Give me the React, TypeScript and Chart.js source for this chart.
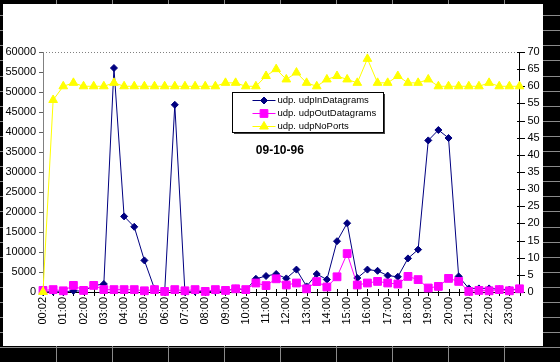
import React, { useEffect, useRef } from "react";
import { Chart, registerables } from "chart.js";

Chart.register(...registerables);

// ---------- data ----------
const TIMES = [
  "00:02", "00:30", "01:00", "01:30", "02:00", "02:30", "03:00", "03:30",
  "04:00", "04:30", "05:00", "05:30", "06:00", "06:30", "07:00", "07:30",
  "08:00", "08:30", "09:00", "09:30", "10:00", "10:30", "11:00", "11:30",
  "12:00", "12:30", "13:00", "13:30", "14:00", "14:30", "15:00", "15:30",
  "16:00", "16:30", "17:00", "17:30", "18:00", "18:30", "19:00", "19:30",
  "20:00", "20:30", "21:00", "21:30", "22:00", "22:30", "23:00", "23:30",
];

const IN_DATAGRAMS = [
  0, 100, 0, 300, 200, 1600, 2000, 56000,
  18900, 16300, 7900, 800, 0, 46800, 0, 100,
  100, 200, 200, 900, 500, 3300, 4000, 4500,
  3400, 5600, 1400, 4500, 3100, 12700, 17200, 3500,
  5600, 5300, 4100, 3800, 8400, 10600, 37900, 40500,
  38500, 3900, 900, 900, 900, 700, 600, 700,
];

const OUT_DATAGRAMS = [
  400, 600, 300, 1650, 400, 1650, 600, 600,
  600, 600, 300, 600, 150, 600, 300, 600,
  150, 600, 400, 800, 600, 2250, 1600, 3300,
  1750, 2250, 800, 2600, 1250, 3800, 9600, 1750,
  2250, 2650, 2250, 2000, 3900, 3100, 1000, 1400,
  3400, 2650, 150, 400, 300, 600, 300, 800,
];

const NO_PORTS = [
  0, 56, 60, 61, 60, 60, 60, 61,
  60, 60, 60, 60, 60, 60, 60, 60,
  60, 60, 61, 61, 60, 60, 63, 65,
  62, 64, 61, 60, 62, 63, 62, 61,
  68, 61, 61, 63, 61, 61, 62, 60,
  60, 60, 60, 60, 61, 60, 60, 60,
];

const SERIES_NAMES = ["udp. udpInDatagrams", "udp. udpOutDatagrams", "udp. udpNoPorts"];
const SERIES_COLORS = ["#000080", "#FF00FF", "#FFFF00"];
const SERIES_SHAPES = ["rectRot", "rect", "triangle"];
const TITLE = "09-10-96";

const LEFT_MAX = 60000;
const LEFT_STEP = 5000;
const RIGHT_MAX = 70;
const RIGHT_STEP = 5;

const FONT = "'Liberation Sans', Arial, Helvetica, sans-serif";

// ---------- helpers ----------
function drawMarker(ctx: CanvasRenderingContext2D, shape: string, x: number, y: number, r: number, color: string) {
  ctx.save();
  ctx.fillStyle = color;
  ctx.strokeStyle = color;
  ctx.lineWidth = 1;
  ctx.beginPath();
  if (shape === "rectRot") {
    ctx.moveTo(x, y - r);
    ctx.lineTo(x + r, y);
    ctx.lineTo(x, y + r);
    ctx.lineTo(x - r, y);
    ctx.closePath();
  } else if (shape === "rect") {
    const s = r * Math.SQRT1_2;
    ctx.rect(x - s, y - s, 2 * s, 2 * s);
  } else {
    ctx.moveTo(x, y - r);
    ctx.lineTo(x + r * 0.866, y + r * 0.5);
    ctx.lineTo(x - r * 0.866, y + r * 0.5);
    ctx.closePath();
  }
  ctx.fill();
  ctx.stroke();
  ctx.restore();
}

const framePlugin = {
  id: "frame",
  beforeDraw(chart: any) {
    const ctx: CanvasRenderingContext2D = chart.ctx;
    const W = chart.width;
    const H = chart.height;
    ctx.save();
    ctx.fillStyle = "#000";
    ctx.fillRect(0, 0, W, H);
    ctx.strokeStyle = "#8a8a8a";
    ctx.lineWidth = 1;
    ctx.beginPath();
    for (let k = 1; k <= 10; k++) {
      const x = Math.round(56 * k) + 0.5;
      ctx.moveTo(x, 0);
      ctx.lineTo(x, H);
    }
    for (let k = 1; k <= 24; k++) {
      const y = Math.round(15.1 * k) + 0.5;
      ctx.moveTo(0, y);
      ctx.lineTo(W, y);
    }
    ctx.stroke();
    ctx.fillStyle = "#fff";
    ctx.fillRect(3, 4, 540, 342);
    ctx.restore();
  },
  beforeDatasetsDraw(chart: any) {
    const ctx: CanvasRenderingContext2D = chart.ctx;
    const { left, right, top, bottom } = chart.chartArea;
    const xs = chart.scales.x;
    const yl = chart.scales.y;
    const yr = chart.scales.y1;
    ctx.save();
    ctx.lineWidth = 1;
    // dotted top border of plot area
    ctx.strokeStyle = "#808080";
    ctx.setLineDash([1, 2]);
    ctx.beginPath();
    ctx.moveTo(left, Math.round(top) + 0.5);
    ctx.lineTo(right, Math.round(top) + 0.5);
    ctx.stroke();
    ctx.setLineDash([]);
    // x ticks (crossing)
    ctx.strokeStyle = "#000";
    ctx.beginPath();
    const by = Math.round(bottom);
    for (let i = 0; i < TIMES.length; i++) {
      const px = Math.round(xs.getPixelForValue(i)) + 0.5;
      ctx.moveTo(px, by - 3);
      ctx.lineTo(px, by + 4);
    }
    ctx.stroke();
    // right axis ticks (crossing)
    ctx.beginPath();
    const rx = Math.round(right);
    for (let v = 0; v <= RIGHT_MAX; v += RIGHT_STEP) {
      const py = Math.round(yr.getPixelForValue(v)) + 0.5;
      ctx.moveTo(rx - 3, py);
      ctx.lineTo(rx + 5, py);
    }
    ctx.stroke();
    // left axis ticks (outward)
    ctx.strokeStyle = "#606060";
    ctx.beginPath();
    const lx = Math.round(left);
    for (let v = 0; v <= LEFT_MAX; v += LEFT_STEP) {
      const py = Math.round(yl.getPixelForValue(v)) + 0.5;
      ctx.moveTo(lx - 4, py);
      ctx.lineTo(lx, py);
    }
    ctx.stroke();
    ctx.restore();
  },
  afterDraw(chart: any) {
    const ctx: CanvasRenderingContext2D = chart.ctx;
    const { left, right, top } = chart.chartArea;
    const w = right - left;
    // legend box
    const bx = Math.round(left + w * 0.397) + 0.5;
    const by = Math.round(top + 40) + 0.5;
    const bw = 151;
    const bh = 40;
    ctx.save();
    ctx.fillStyle = "#404040";
    ctx.fillRect(bx + 1.5, by + 1.5, bw, bh);
    ctx.fillStyle = "#fff";
    ctx.fillRect(bx, by, bw, bh);
    ctx.strokeStyle = "#000";
    ctx.lineWidth = 1;
    ctx.strokeRect(bx, by, bw, bh);
    const radii = [3.5, 5.5, 5];
    for (let i = 0; i < SERIES_NAMES.length; i++) {
      const cy = Math.round(by + 7 + i * 13) + 0.5;
      const x0 = bx + 20;
      const x1 = bx + 43;
      ctx.strokeStyle = SERIES_COLORS[i];
      ctx.beginPath();
      ctx.moveTo(x0, cy);
      ctx.lineTo(x1, cy);
      ctx.stroke();
      drawMarker(ctx, SERIES_SHAPES[i], (x0 + x1) / 2, cy, radii[i], SERIES_COLORS[i]);
      ctx.fillStyle = "#000";
      ctx.font = `9.5px ${FONT}`;
      ctx.textAlign = "left";
      ctx.textBaseline = "middle";
      ctx.fillText(SERIES_NAMES[i], bx + 45, cy);
    }
    // title
    ctx.fillStyle = "#000";
    ctx.font = `bold 12px ${FONT}`;
    ctx.textAlign = "center";
    ctx.textBaseline = "middle";
    ctx.fillText(TITLE, left + w * 0.497, top + 99);
    ctx.restore();
  },
};

export default function App() {
  const ref = useRef<HTMLCanvasElement>(null);
  useEffect(() => {
    document.body.style.margin = "0";
    const canvas = ref.current!;
    const tickFont = { size: 11, family: FONT };
    const chart = new Chart(canvas, {
      type: "line",
      data: {
        labels: TIMES,
        datasets: [
          {
            label: SERIES_NAMES[0],
            data: IN_DATAGRAMS,
            yAxisID: "y",
            borderColor: SERIES_COLORS[0],
            backgroundColor: SERIES_COLORS[0],
            borderWidth: 1,
            pointStyle: "rectRot",
            pointRadius: 3.5,
            pointBorderWidth: 1,
            order: 2,
            clip: false,
          },
          {
            label: SERIES_NAMES[1],
            data: OUT_DATAGRAMS,
            yAxisID: "y",
            borderColor: SERIES_COLORS[1],
            backgroundColor: SERIES_COLORS[1],
            borderWidth: 1,
            pointStyle: "rect",
            pointRadius: 5.5,
            pointBorderWidth: 1,
            order: 1,
            clip: false,
          },
          {
            label: SERIES_NAMES[2],
            data: NO_PORTS,
            yAxisID: "y1",
            borderColor: SERIES_COLORS[2],
            backgroundColor: SERIES_COLORS[2],
            borderWidth: 1,
            pointStyle: "triangle",
            pointRadius: 5,
            pointBorderWidth: 1,
            order: 0,
            clip: false,
          },
        ],
      },
      options: {
        responsive: false,
        animation: false,
        devicePixelRatio: 1,
        events: [],
        layout: { padding: { left: 4, top: 52, right: 17, bottom: 16 } },
        plugins: {
          legend: { display: false },
          tooltip: { enabled: false },
          title: { display: false },
        },
        scales: {
          x: {
            type: "category",
            offset: false,
            grid: { display: false, drawTicks: true, tickLength: 4 },
            border: { display: true, color: "#000", width: 1 },
            ticks: {
              autoSkip: false,
              maxRotation: 90,
              minRotation: 90,
              padding: 1,
              color: "#000",
              font: tickFont,
              callback: (_v: any, i: number) => (i % 2 === 0 ? TIMES[i] : ""),
            },
            afterFit: (s: any) => {
              s.height = 54;
            },
          },
          y: {
            type: "linear",
            position: "left",
            min: 0,
            max: LEFT_MAX,
            grid: { display: false, drawTicks: true, tickLength: 4 },
            border: { display: true, color: "#808080", width: 1 },
            ticks: {
              stepSize: LEFT_STEP,
              padding: 3,
              color: "#000",
              font: tickFont,
              callback: (v: any) => String(v),
            },
            afterFit: (s: any) => {
              s.width = 39;
            },
          },
          y1: {
            type: "linear",
            position: "right",
            min: 0,
            max: RIGHT_MAX,
            grid: { display: false, drawTicks: true, tickLength: 5 },
            border: { display: true, color: "#000", width: 1 },
            ticks: {
              stepSize: RIGHT_STEP,
              padding: 3,
              color: "#000",
              font: tickFont,
              callback: (v: any) => String(v),
            },
            afterFit: (s: any) => {
              s.width = 23.5;
            },
          },
        },
      } as any,
      plugins: [framePlugin],
    });
    return () => chart.destroy();
  }, []);
  return (
    <div style={{ position: "fixed", left: 0, top: 0, width: 560, height: 362 }}>
      <canvas ref={ref} width={560} height={362} style={{ display: "block", width: 560, height: 362 }} />
    </div>
  );
}
